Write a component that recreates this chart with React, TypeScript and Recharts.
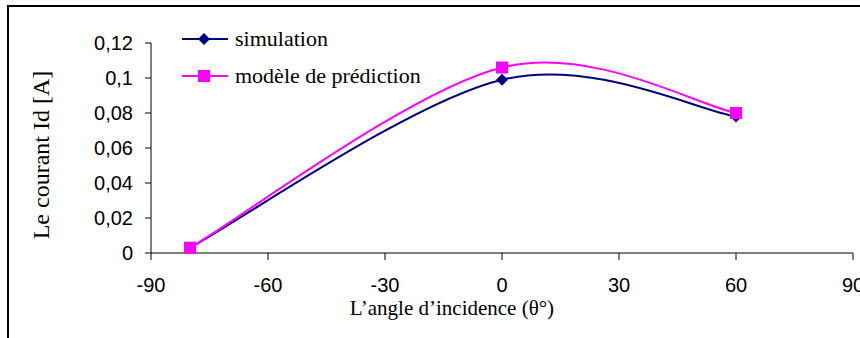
import { Label, Legend, Line, LineChart, XAxis, YAxis } from "recharts";

const angles = [-80, 0, 60];
const simulation = [0.003, 0.099, 0.078];
const prediction = [0.003, 0.106, 0.08];
const xTicks = [-90, -60, -30, 0, 30, 60, 90];
const yTicks = [0, 0.02, 0.04, 0.06, 0.08, 0.1, 0.12];

const data = angles.map((angle, i) => ({
  angle,
  simulation: simulation[i],
  prediction: prediction[i],
}));

const NAVY = "#000080";
const MAGENTA = "#ff00ff";
const serif = '"Liberation Serif", "Times New Roman", serif';
const sans = '"Liberation Sans", Arial, sans-serif';

const formatComma = (v: number) => String(Number(Number(v).toFixed(2))).replace(".", ",");

// spreadsheet-style smoothed line (Catmull-Rom as cubic Bezier, 1/6 tension)
function smoothCurve(context: any) {
  let pts: number[][] = [];
  return {
    areaStart() {},
    areaEnd() {},
    lineStart() {
      pts = [];
    },
    point(x: number, y: number) {
      pts.push([+x, +y]);
    },
    lineEnd() {
      if (!pts.length) return;
      context.moveTo(pts[0][0], pts[0][1]);
      for (let i = 0; i < pts.length - 1; i++) {
        const p0 = pts[i - 1] || pts[i];
        const p1 = pts[i];
        const p2 = pts[i + 1];
        const p3 = pts[i + 2] || pts[i + 1];
        context.bezierCurveTo(
          p1[0] + (p2[0] - p0[0]) / 6,
          p1[1] + (p2[1] - p0[1]) / 6,
          p2[0] - (p3[0] - p1[0]) / 6,
          p2[1] - (p3[1] - p1[1]) / 6,
          p2[0],
          p2[1],
        );
      }
    },
  };
}

function Diamond({ cx, cy }: any) {
  if (cx == null || cy == null) return null;
  const r = 6;
  return <polygon points={`${cx},${cy - r} ${cx + r},${cy} ${cx},${cy + r} ${cx - r},${cy}`} fill={NAVY} />;
}

function Square({ cx, cy }: any) {
  if (cx == null || cy == null) return null;
  return <rect x={cx - 6} y={cy - 6} width={12} height={12} fill={MAGENTA} />;
}

const legendItems = [
  { label: "simulation", color: NAVY, kind: "diamond" },
  { label: "modèle de prédiction", color: MAGENTA, kind: "square" },
];

function LegendBox() {
  return (
    <div style={{ fontFamily: serif, fontSize: 22, color: "#000" }}>
      {legendItems.map((item) => (
        <div key={item.label} style={{ display: "flex", alignItems: "center", height: 37 }}>
          <svg width={53} height={14} style={{ display: "block" }}>
            <line x1={0} y1={7} x2={46} y2={7} stroke={item.color} strokeWidth={2} />
            {item.kind === "diamond" ? <Diamond cx={22} cy={7} /> : <Square cx={22} cy={7} />}
          </svg>
          <span style={{ lineHeight: "22px" }}>{item.label}</span>
        </div>
      ))}
    </div>
  );
}

export default function App() {
  return (
    <div style={{ position: "absolute", left: 0, top: 0, width: 860, height: 338, overflow: "hidden", background: "#fff" }}>
      <div
        style={{
          position: "absolute",
          left: 7,
          top: 5,
          width: 900,
          height: 400,
          border: "2px solid #000",
        }}
      />
      <div style={{ position: "absolute", left: 0, top: 0 }}>
        <LineChart width={860} height={338} data={data} margin={{ top: 43, right: 7, left: 0, bottom: 0 }}>
          <XAxis
            type="number"
            dataKey="angle"
            domain={[-90, 90]}
            ticks={xTicks}
            interval={0}
            height={85}
            stroke="#000"
            tickSize={7}
            tickMargin={18}
            tick={{ fill: "#000", fontSize: 20, fontFamily: sans }}
          >
            <Label
              content={() => (
                <text x={452} y={315} textAnchor="middle" fontFamily={serif} fontSize={21} fill="#000">
                  L’angle d’incidence (θ°)
                </text>
              )}
            />
          </XAxis>
          <YAxis
            type="number"
            domain={[0, 0.12]}
            ticks={yTicks}
            interval={0}
            width={151}
            stroke="#000"
            tickSize={6}
            tickMargin={12}
            tickFormatter={formatComma}
            tick={{ fill: "#000", fontSize: 20, fontFamily: sans }}
          >
            <Label
              content={() => (
                <text
                  x={41}
                  y={155}
                  transform="rotate(-90 41 155)"
                  textAnchor="middle"
                  dominantBaseline="central"
                  fontFamily={serif}
                  fontSize={24}
                  fill="#000"
                >
                  Le courant Id [A]
                </text>
              )}
            />
          </YAxis>
          <Legend
            verticalAlign="middle"
            align="center"
            layout="vertical"
            wrapperStyle={{ left: 182, top: 20, width: 280 }}
            content={() => <LegendBox />}
          />
          <Line
            type={smoothCurve as any}
            dataKey="simulation"
            name="simulation"
            stroke={NAVY}
            strokeWidth={2}
            dot={<Diamond />}
            isAnimationActive={false}
          />
          <Line
            type={smoothCurve as any}
            dataKey="prediction"
            name="modèle de prédiction"
            stroke={MAGENTA}
            strokeWidth={2}
            dot={<Square />}
            isAnimationActive={false}
          />
        </LineChart>
      </div>
    </div>
  );
}
